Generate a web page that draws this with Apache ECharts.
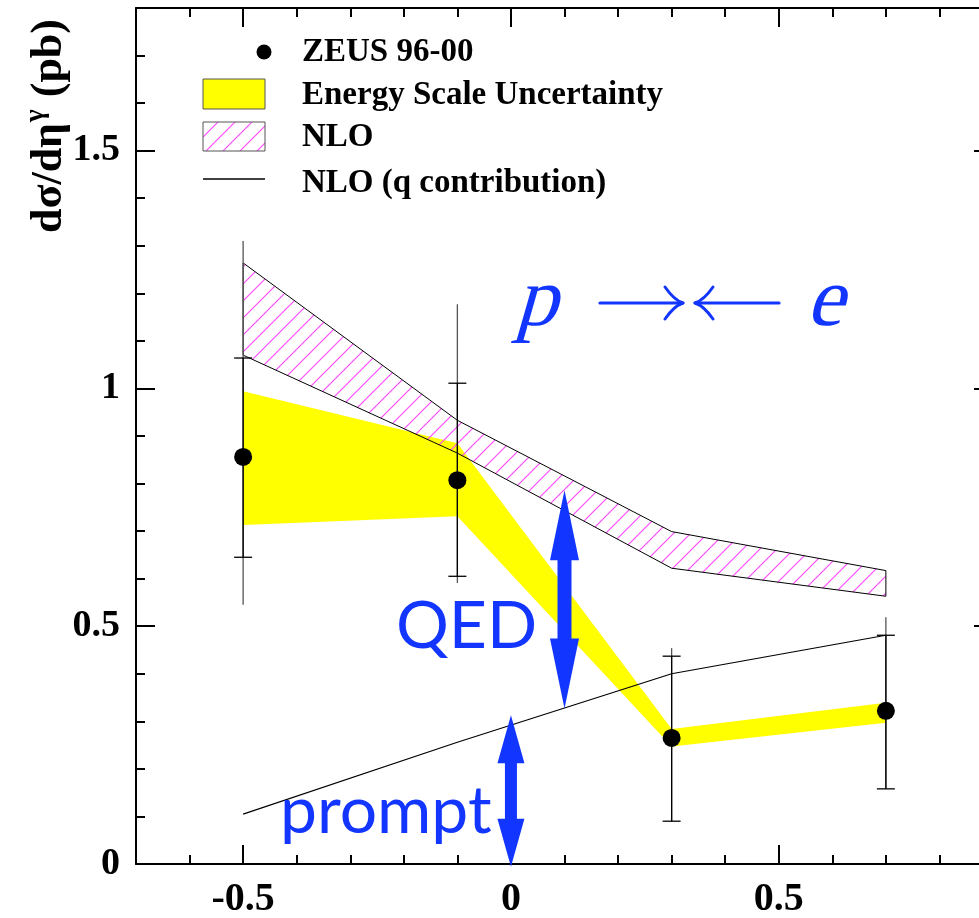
<!DOCTYPE html>
<html>
<head>
<meta charset="utf-8">
<script src="https://cdn.jsdelivr.net/npm/echarts@6/dist/echarts.min.js"></script>
<style>
  html, body { margin: 0; padding: 0; background: #fff; }
  #chart { width: 979px; height: 918px; }
</style>
</head>
<body>
<div id="chart"></div>
<script>
// Photon pseudorapidity bins (bin centres)
const etaCenters = [-0.5, -0.1, 0.3, 0.7];

// ZEUS 96-00 measured cross sections (pb)
const zeusValues = [0.856, 0.807, 0.265, 0.322];
const statLow    = [0.645, 0.605, 0.090, 0.158];
const statHigh   = [1.064, 1.011, 0.437, 0.481];
const totLow     = [0.545, 0.591, 0.090, 0.158];
const totHigh    = [1.310, 1.177, 0.454, 0.519];

// Energy scale uncertainty band
const energyUpper = [0.994, 0.885, 0.284, 0.339];
const energyLower = [0.713, 0.731, 0.247, 0.297];

// NLO prediction band
const nloUpper = [1.264, 0.933, 0.699, 0.617];
const nloLower = [1.070, 0.864, 0.622, 0.563];

// NLO quark contribution
const nloQuark = [0.105, 0.256, 0.400, 0.481];

// Annotation arrows: [eta, from, to]
const qedArrow    = [0.1, 0.327, 0.786];
const promptArrow = [0.0, -0.006, 0.313];

// Axis tick labels
const xLabelTicks = [-0.5, 0, 0.5];
const yLabelTicks = [0, 0.5, 1, 1.5];

const BLUE = '#1236ff';
const SERIF = '"Liberation Serif", "Times New Roman", serif';
const SANS = 'Lato, "Open Sans", sans-serif';

// diagonal magenta hatch tile
const hatchTile = (() => {
  const s = 17;
  const c = document.createElement('canvas');
  c.width = s; c.height = s;
  const g = c.getContext('2d');
  g.strokeStyle = '#ff4dff';
  g.lineWidth = 1.2;
  g.beginPath();
  g.moveTo(0, s); g.lineTo(s, 0);
  g.moveTo(-2, 2); g.lineTo(2, -2);
  g.moveTo(s - 2, s + 2); g.lineTo(s + 2, s - 2);
  g.stroke();
  return c;
})();
const hatchFill = { image: hatchTile, repeat: 'repeat' };

function bandSeries(name, upper, lower, style) {
  return {
    type: 'custom',
    name: name,
    data: etaCenters.map((x, i) => [x, lower[i], upper[i]]),
    renderItem: (params, api) => {
      if (params.dataIndex !== 0) return null;
      const top = etaCenters.map((x, i) => api.coord([x, upper[i]]));
      const bot = etaCenters.map((x, i) => api.coord([x, lower[i]])).reverse();
      return { type: 'polygon', shape: { points: top.concat(bot) }, style: style };
    }
  };
}

function doubleArrowSeries(arrow, headW, shaftW, headL) {
  return {
    type: 'custom',
    data: [arrow],
    z: 5,
    renderItem: (params, api) => {
      const x = api.value(0);
      const b = api.coord([x, api.value(1)]);
      const t = api.coord([x, api.value(2)]);
      const cx = t[0], hw = headW / 2, sw = shaftW / 2;
      return {
        type: 'polygon',
        shape: { points: [
          [cx, t[1]], [cx + hw, t[1] + headL], [cx + sw, t[1] + headL],
          [cx + sw, b[1] - headL], [cx + hw, b[1] - headL], [cx, b[1]],
          [cx - hw, b[1] - headL], [cx - sw, b[1] - headL],
          [cx - sw, t[1] + headL], [cx - hw, t[1] + headL]
        ] },
        style: { fill: BLUE }
      };
    }
  };
}

const axisLine = { show: true, onZero: false, lineStyle: { color: '#000', width: 2 } };
const hiddenLine = { show: false, onZero: false };
const tickLine = { color: '#000', width: 2 };
const labelFont = { fontFamily: SERIF, fontWeight: 'bold', color: '#000' };

function xAxisPair(position, withLabels) {
  return [
    {
      type: 'value', position: position, min: -0.7, max: 0.9, interval: 0.1,
      axisLine: axisLine,
      axisTick: { show: true, inside: true, length: 9, lineStyle: tickLine },
      axisLabel: withLabels
        ? Object.assign({ show: true, customValues: xLabelTicks, margin: 16, fontSize: 40 }, labelFont)
        : { show: false },
      splitLine: { show: false }
    },
    {
      type: 'value', position: position, min: -0.7, max: 0.9, interval: 0.1,
      axisLine: hiddenLine,
      axisTick: { show: true, inside: true, length: 19, customValues: xLabelTicks, lineStyle: tickLine },
      axisLabel: { show: false },
      splitLine: { show: false }
    }
  ];
}

function yAxisPair(position, withLabels) {
  return [
    {
      type: 'value', position: position, min: 0, max: 1.8, interval: 0.1,
      axisLine: axisLine,
      axisTick: { show: true, inside: true, length: 9, lineStyle: tickLine },
      axisLabel: withLabels
        ? Object.assign({ show: true, customValues: yLabelTicks, margin: 16, fontSize: 38 }, labelFont)
        : { show: false },
      splitLine: { show: false }
    },
    {
      type: 'value', position: position, min: 0, max: 1.8, interval: 0.1,
      axisLine: hiddenLine,
      axisTick: { show: true, inside: true, length: 19, customValues: yLabelTicks, lineStyle: tickLine },
      axisLabel: { show: false },
      splitLine: { show: false }
    }
  ];
}

const chart = echarts.init(document.getElementById('chart'), null, { renderer: 'canvas' });

const legendText = (y, text) => ({
  type: 'text', x: 302, y: y, z: 20,
  style: { text: text, fontFamily: SERIF, fontWeight: 'bold', fontSize: 33, fill: '#000', align: 'left', verticalAlign: 'middle' }
});

// slanted serif letters for the beam labels
const beamText = (x, text) => ({
  type: 'text', x: x, y: 303, z: 20, skewX: -0.28,
  style: { text: text, fontFamily: SERIF, fontSize: 84, fill: BLUE, align: 'left', verticalAlign: 'middle' }
});

chart.setOption({
  animation: false,
  backgroundColor: '#fff',
  grid: { left: 136, width: 857, top: 8, bottom: 54, containLabel: false, outerBoundsMode: 'none' },
  xAxis: xAxisPair('bottom', true).concat(xAxisPair('top', false)),
  yAxis: yAxisPair('left', true).concat(yAxisPair('right', false)),
  series: [
    bandSeries('Energy Scale Uncertainty', energyUpper, energyLower, { fill: '#ffff00', stroke: null }),
    bandSeries('NLO', nloUpper, nloLower, { fill: hatchFill, stroke: '#000', lineWidth: 1 }),
    {
      type: 'line',
      name: 'NLO (q contribution)',
      data: etaCenters.map((x, i) => [x, nloQuark[i]]),
      showSymbol: false,
      symbol: 'none',
      lineStyle: { color: '#000', width: 1.2 },
      z: 4
    },
    doubleArrowSeries(qedArrow, 29, 14, 70),
    doubleArrowSeries(promptArrow, 27, 12, 48),
    {
      type: 'custom',
      name: 'errors',
      z: 6,
      data: etaCenters.map((x, i) => [x, zeusValues[i], statLow[i], statHigh[i], totLow[i], totHigh[i]]),
      renderItem: (params, api) => {
        const x = api.value(0);
        const sl = api.coord([x, api.value(2)]);
        const sh = api.coord([x, api.value(3)]);
        const tl = api.coord([x, api.value(4)]);
        const th = api.coord([x, api.value(5)]);
        const cap = 9;
        return {
          type: 'group',
          children: [
            { type: 'line', shape: { x1: tl[0], y1: tl[1], x2: th[0], y2: th[1] }, style: { stroke: '#555', lineWidth: 1.3 } },
            { type: 'line', shape: { x1: sl[0], y1: sl[1], x2: sh[0], y2: sh[1] }, style: { stroke: '#000', lineWidth: 1.3 } },
            { type: 'line', shape: { x1: sl[0] - cap, y1: sl[1], x2: sl[0] + cap, y2: sl[1] }, style: { stroke: '#000', lineWidth: 1.3 } },
            { type: 'line', shape: { x1: sh[0] - cap, y1: sh[1], x2: sh[0] + cap, y2: sh[1] }, style: { stroke: '#000', lineWidth: 1.3 } }
          ]
        };
      }
    },
    {
      type: 'scatter',
      name: 'ZEUS 96-00',
      z: 7,
      symbol: 'circle',
      symbolSize: 18,
      itemStyle: { color: '#000', opacity: 1 },
      data: etaCenters.map((x, i) => [x, zeusValues[i]])
    }
  ],
  graphic: [
    // axis title
    {
      type: 'text', x: 50, y: 126, rotation: Math.PI / 2, z: 20,
      style: {
        text: '{m|dσ/dη}{s|γ}{m| (pb)}',
        align: 'center', verticalAlign: 'middle',
        rich: {
          m: { fontFamily: SERIF, fontWeight: 'bold', fontSize: 44, color: '#000' },
          s: { fontFamily: SERIF, fontWeight: 'bold', fontSize: 27, color: '#000', padding: [0, 1, 28, 1] }
        }
      }
    },
    // legend
    { type: 'circle', z: 20, shape: { cx: 264, cy: 52, r: 7.5 }, style: { fill: '#000' } },
    legendText(52, 'ZEUS 96-00'),
    { type: 'rect', z: 20, shape: { x: 203, y: 79, width: 62, height: 30 }, style: { fill: '#ffff00', stroke: '#555', lineWidth: 1 } },
    legendText(95, 'Energy Scale Uncertainty'),
    { type: 'rect', z: 20, shape: { x: 203, y: 122, width: 62, height: 29 }, style: { fill: hatchFill, stroke: '#555', lineWidth: 1 } },
    legendText(137, 'NLO'),
    { type: 'line', z: 20, shape: { x1: 203, y1: 179, x2: 265, y2: 179 }, style: { stroke: '#000', lineWidth: 1.5 } },
    legendText(183, 'NLO (q contribution)'),
    // beam labels
    beamText(521, 'p'),
    beamText(812, 'e'),
    { type: 'line', z: 20, shape: { x1: 600, y1: 303, x2: 681, y2: 303 }, style: { stroke: BLUE, lineWidth: 3.2, lineCap: 'round' } },
    { type: 'bezierCurve', z: 20, shape: { x1: 665, y1: 287, cpx1: 674, cpy1: 300, x2: 683, y2: 303 }, style: { stroke: BLUE, lineWidth: 3, lineCap: 'round', fill: null } },
    { type: 'bezierCurve', z: 20, shape: { x1: 665, y1: 319, cpx1: 674, cpy1: 306, x2: 683, y2: 303 }, style: { stroke: BLUE, lineWidth: 3, lineCap: 'round', fill: null } },
    { type: 'line', z: 20, shape: { x1: 697, y1: 303, x2: 779, y2: 303 }, style: { stroke: BLUE, lineWidth: 3.2, lineCap: 'round' } },
    { type: 'bezierCurve', z: 20, shape: { x1: 713, y1: 287, cpx1: 704, cpy1: 300, x2: 695, y2: 303 }, style: { stroke: BLUE, lineWidth: 3, lineCap: 'round', fill: null } },
    { type: 'bezierCurve', z: 20, shape: { x1: 713, y1: 319, cpx1: 704, cpy1: 306, x2: 695, y2: 303 }, style: { stroke: BLUE, lineWidth: 3, lineCap: 'round', fill: null } },
    // arrow labels
    {
      type: 'text', x: 396, y: 627, z: 20,
      style: { text: 'QED', fontFamily: SANS, fontSize: 66, fill: BLUE, align: 'left', verticalAlign: 'middle' }
    },
    {
      type: 'text', x: 280, y: 812, z: 20,
      style: { text: 'prompt', fontFamily: SANS, fontSize: 66, fill: BLUE, align: 'left', verticalAlign: 'middle' }
    }
  ]
});
</script>
</body>
</html>
